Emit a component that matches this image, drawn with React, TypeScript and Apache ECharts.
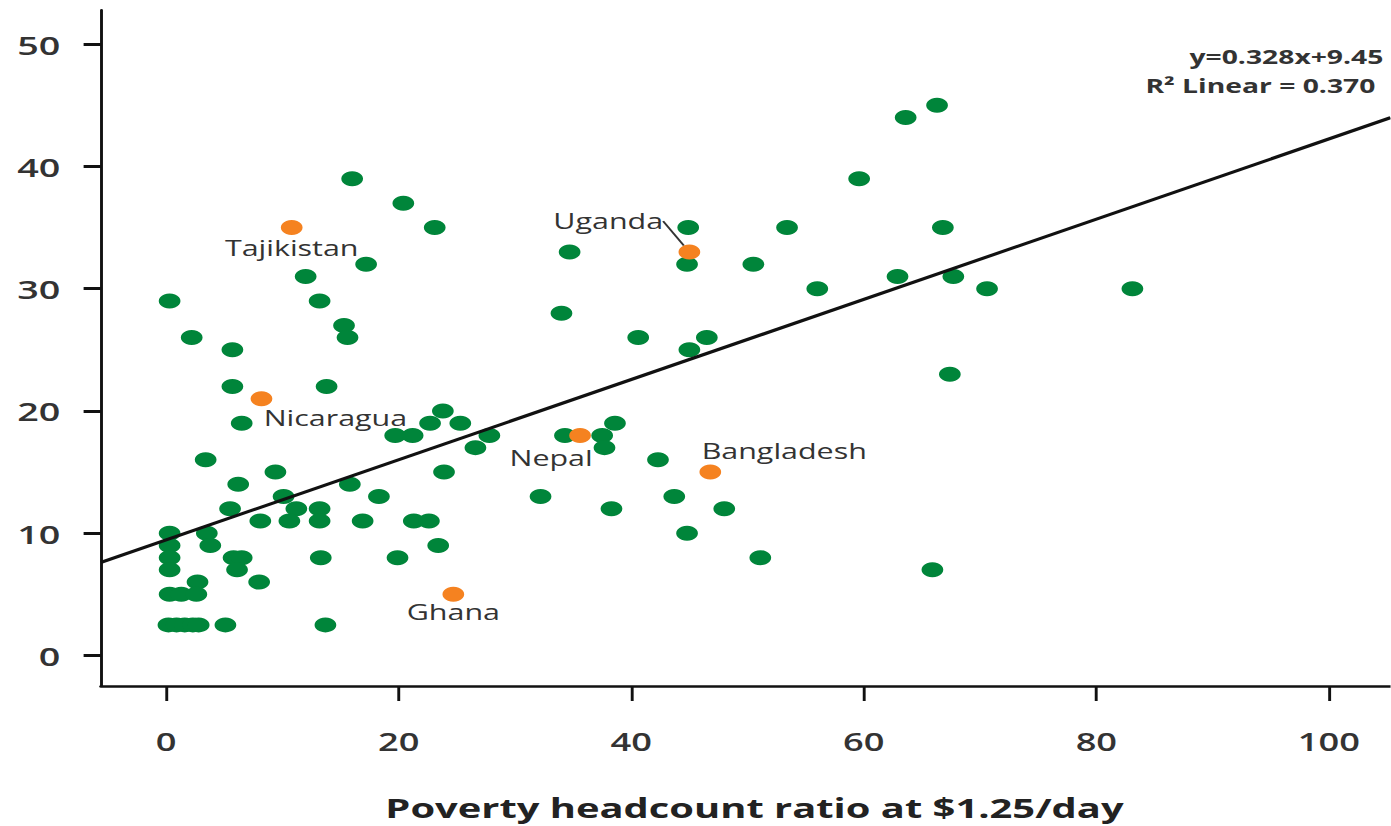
import React, { useEffect, useRef } from "react";
import * as echarts from "echarts";

// Horizontal stretch applied to the rendered chart
const STRETCH = 1.45;
const PAGE_W = 1391;
const PAGE_H = 826;

const X_MIN = -5.6;
const X_MAX = 105.3;
const Y_MIN = -2.5;
const Y_MAX = 52.8;

const xTicks = [0, 20, 40, 60, 80, 100];
const yTicks = [0, 10, 20, 30, 40, 50];

const FIT_SLOPE = 0.328;
const FIT_INTERCEPT = 9.45;
const fitLabel = "y=0.328x+9.45";
const r2Label = "R² Linear = 0.370";

const xAxisTitle = "Poverty headcount ratio at $1.25/day";

// Country points: [poverty headcount, y value]
const countryPoints: [number, number][] = [
  [66.3, 45], [63.6, 44], [59.6, 39], [66.8, 35], [53.4, 35], [44.9, 35],
  [62.9, 31], [67.7, 31], [70.6, 30], [56.0, 30], [83.1, 30], [50.5, 32],
  [44.8, 32], [34.7, 33], [34.0, 28], [40.6, 26], [46.5, 26], [45.0, 25],
  [67.4, 23], [38.6, 19], [37.5, 18], [37.7, 17], [34.3, 18], [42.3, 16],
  [43.7, 13], [48.0, 12], [38.3, 12], [32.2, 13], [44.8, 10], [51.1, 8],
  [65.9, 7],
  [16.0, 39], [20.4, 37], [23.1, 35], [17.2, 32], [12.0, 31], [13.2, 29],
  [15.3, 27], [15.6, 26], [0.3, 29], [2.2, 26], [5.7, 25], [5.7, 22],
  [13.8, 22], [6.5, 19], [23.8, 20], [22.7, 19], [25.3, 19], [19.7, 18],
  [21.2, 18], [27.8, 18], [26.6, 17], [3.4, 16], [9.4, 15], [23.9, 15],
  [6.2, 14], [15.8, 14], [18.3, 13], [10.1, 13], [5.5, 12], [11.2, 12],
  [13.2, 12], [8.1, 11], [10.6, 11], [13.2, 11], [16.9, 11], [21.3, 11],
  [22.6, 11], [0.3, 10], [3.5, 10], [3.8, 9], [23.4, 9], [0.3, 9],
  [0.3, 8], [5.8, 8], [6.5, 8], [13.3, 8], [19.9, 8], [0.3, 7], [6.1, 7],
  [2.7, 6], [8.0, 6], [0.3, 5], [1.3, 5], [2.6, 5],
  [0.2, 2.5], [0.9, 2.5], [1.6, 2.5], [2.3, 2.5], [2.8, 2.5], [5.1, 2.5],
  [13.7, 2.5],
];

// Highlighted countries
const highlightNames = ["Tajikistan", "Uganda", "Nicaragua", "Nepal", "Bangladesh", "Ghana"];
const highlightX = [10.8, 45.0, 8.2, 35.6, 46.8, 24.7];
const highlightY = [35, 33, 21, 18, 15, 5];
// label shift from the point, in chart pixels
const highlightLabelShift: [number, number][] = [
  [0, 20], [-56, -31], [51, 19], [-20, 23], [51, -21], [0, 18],
];

const GREEN = "#00853a";
const ORANGE = "#f58220";
const FONT = "'Open Sans', 'Noto Sans', sans-serif";

export default function App() {
  const ref = useRef<HTMLDivElement>(null);

  useEffect(() => {
    if (!ref.current) return;
    const chart = echarts.init(ref.current, null, { renderer: "svg" });
    const chartW = PAGE_W / STRETCH;

    const highlightData = highlightNames.map((name, i) => ({
      name,
      value: [highlightX[i], highlightY[i]],
      labelLine: { show: name === "Uganda" },
    }));

    chart.setOption({
      animation: false,
      backgroundColor: "#ffffff",
      grid: { left: 101 / STRETCH, right: 0, top: 10, bottom: PAGE_H - 688, containLabel: false },
      xAxis: {
        type: "value",
        min: X_MIN,
        max: X_MAX,
        splitLine: { show: false },
        axisLine: { show: true, onZero: false, lineStyle: { color: "#111", width: 2.5 } },
        axisTick: { show: true, length: 15, customValues: xTicks, lineStyle: { color: "#111", width: 2 } },
        axisLabel: {
          customValues: xTicks,
          margin: 43,
          fontSize: 25,
          fontFamily: FONT,
          fontWeight: 600,
          color: "#333",
        },
        name: xAxisTitle,
        nameLocation: "middle",
        nameGap: 107,
        nameTextStyle: {
          fontSize: 27.5,
          fontWeight: "bold",
          fontFamily: FONT,
          color: "#222",
          padding: [0, 0, 0, 12],
        },
      },
      yAxis: {
        type: "value",
        min: Y_MIN,
        max: Y_MAX,
        splitLine: { show: false },
        axisLine: { show: true, onZero: false, lineStyle: { color: "#111", width: 2 } },
        axisTick: { show: true, length: 12, customValues: yTicks, lineStyle: { color: "#111", width: 3 } },
        axisLabel: {
          customValues: yTicks,
          margin: 28,
          fontSize: 26,
          fontFamily: FONT,
          fontWeight: 600,
          color: "#333",
        },
      },
      series: [
        {
          type: "scatter",
          data: countryPoints,
          symbol: "circle",
          symbolSize: 15,
          itemStyle: { color: GREEN, opacity: 1 },
          z: 2,
        },
        {
          type: "scatter",
          data: highlightData,
          symbol: "circle",
          symbolSize: 15,
          itemStyle: { color: ORANGE, opacity: 1 },
          z: 3,
          label: {
            show: true,
            position: "inside",
            formatter: "{b}",
            fontSize: 21,
            fontFamily: FONT,
            fontWeight: 500,
            color: "#333",
          },
          labelLine: { lineStyle: { color: "#333", width: 1.5 } },
          labelLayout: (params: any) => {
            const s = highlightLabelShift[params.dataIndex];
            return { dx: s[0], dy: s[1] };
          },
        },
        {
          type: "line",
          data: [
            [X_MIN, FIT_SLOPE * X_MIN + FIT_INTERCEPT],
            [X_MAX, FIT_SLOPE * X_MAX + FIT_INTERCEPT],
          ],
          symbol: "none",
          lineStyle: { color: "#111", width: 3 },
          z: 5,
          silent: true,
        },
      ],
      graphic: [
        {
          type: "text",
          right: chartW - 1384 / STRETCH,
          top: 46,
          style: { text: fitLabel, fontSize: 19.5, fontWeight: "bold", fontFamily: FONT, fill: "#333" },
        },
        {
          type: "text",
          right: chartW - 1376 / STRETCH,
          top: 75,
          style: { text: r2Label, fontSize: 19.5, fontWeight: "bold", fontFamily: FONT, fill: "#333" },
        },
      ],
    });

    return () => chart.dispose();
  }, []);

  return (
    <div
      ref={ref}
      style={{
        position: "fixed",
        left: 0,
        top: 0,
        width: PAGE_W / STRETCH,
        height: PAGE_H,
        transform: `scaleX(${STRETCH})`,
        transformOrigin: "0 0",
        background: "#fff",
      }}
    />
  );
}
